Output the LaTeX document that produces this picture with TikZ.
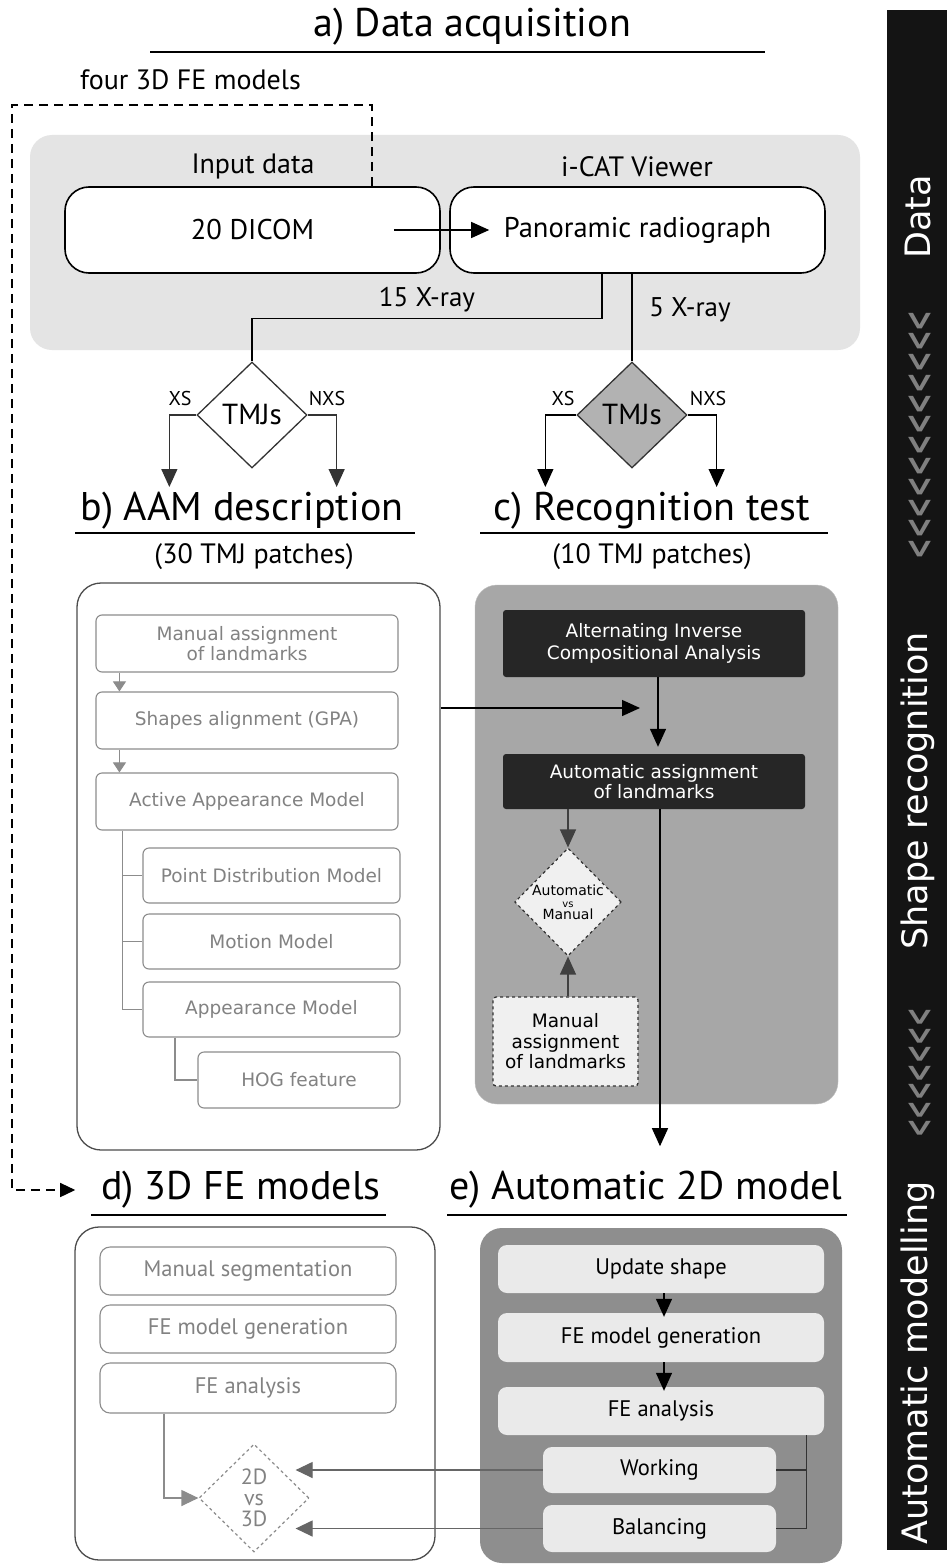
\documentclass[tikz,border=0pt]{standalone}
\usepackage{fontspec}
\setmainfont{PT Sans}
\newfontfamily\condf{PT Sans}
\newfontfamily\djv{DejaVu Sans}
\usetikzlibrary{shapes.geometric,arrows.meta,calc}
\definecolor{bandgray}{HTML}{E4E4E4}
\definecolor{cgray}{HTML}{A7A7A7}
\definecolor{egray}{HTML}{8E8E8E}
\definecolor{einner}{HTML}{EAEAEA}
\definecolor{darkbx}{HTML}{262626}
\definecolor{soft}{HTML}{828282}
\definecolor{softline}{HTML}{8C8C8C}
\begin{document}
\begin{tikzpicture}[x=1pt,y=-1pt,
  fs/.style={font=\condf\fontsize{#1}{#1}\selectfont},
  ttl/.style={font=\condf\fontsize{40}{40}\selectfont, inner sep=0},
  uline/.style={line width=1.6pt},
  bigbox/.style={draw, line width=1.6pt, rounded corners=24pt, minimum width=375pt, minimum height=86pt, fill=white, font=\condf\fontsize{28.5}{28.5}\selectfont},
  diam/.style={diamond, draw=black!80, line width=1.3pt, minimum width=110pt, minimum height=106pt, inner sep=0, font=\condf\fontsize{29}{29}\selectfont},
  arr/.style={-{Triangle[length=18pt,width=16pt]}, line width=1.3pt},
  sarr/.style={-{Triangle[length=10pt,width=13pt]}, draw=softline, line width=1pt},
  garr/.style={-{Triangle[length=17pt,width=16pt]}, draw=black!60, line width=1.2pt},
  inb/.style={draw=softline, line width=1.1pt, rounded corners=6pt, text=soft, font=\djv\fontsize{18.5}{20}\selectfont, align=center, inner sep=2pt},
  darkbox/.style={fill=darkbx, text=white, rounded corners=3pt, minimum width=302pt, font=\djv\fontsize{18.5}{22}\selectfont, align=center, inner sep=2pt},
  ind/.style={draw=softline, line width=1.1pt, rounded corners=10pt, text=soft, font=\condf\fontsize{22.5}{22.5}\selectfont, minimum width=296pt, inner sep=2pt},
  ine/.style={fill=einner, rounded corners=9pt, font=\condf\fontsize{22.5}{22.5}\selectfont, inner sep=2pt},
  side/.style={rotate=90, text=white, font=\djv\fontsize{35}{35}\selectfont, inner sep=0},
  chev/.style={rotate=90, xscale=0.62, text=black!50, inner sep=0, font=\djv\bfseries\fontsize{40}{40}\selectfont}
]
\useasboundingbox (0,0) rectangle (947,1565);
\fill[white] (0,0) rectangle (947,1565);

% ---------- a) data acquisition
\fill[bandgray, rounded corners=22pt] (30,135) rectangle (860,350);
\node[ttl] (ta) at (472,27) {a) Data acquisition};
\draw[uline] (150,52) -- (765,52);
\node[fs=28, anchor=west, inner sep=0] (four) at (80,80) {four 3D FE models};
\node[fs=28, inner sep=0] (inp) at (253,167) {Input data};
\node[fs=28, inner sep=0] (icat) at (637,167) {i-CAT Viewer};
\node[bigbox] (dicom) at (252.5,230) {20 DICOM};
\node[bigbox] (pano) at (637.5,230) {Panoramic radiograph};
\draw[arr] ([xshift=-47pt]dicom.east) -- ([xshift=40pt]pano.west);

\node[diam, fill=white] (dL) at (252,415) {TMJs};
\node[diam, fill=black!30] (dR) at (632,415) {TMJs};
\draw[line width=1.3pt] ([xshift=-35.5pt]pano.south) -- ++(0,45) -| (dL.north);
\node[fs=27] (l15) at (427,300) {15 X-ray};
\draw[line width=1.3pt] (dR.north |- pano.south) -- (dR.north);
\node[fs=27] (l5) at (690,310) {5 X-ray};

\draw[arr, draw=black!80] (dL.west) -- ++(-27,0) -- ++(0,72);
\draw[arr, draw=black!80] (dL.east) -- ++(29,0) -- ++(0,72);
\node[fs=20] (xs1) at (180,398) {XS};
\node[fs=20] (nxs1) at (327,398) {NXS};
\draw[arr] (dR.west) -- ++(-31,0) -- ++(0,72);
\draw[arr] (dR.east) -- ++(29,0) -- ++(0,72);
\node[fs=20] (xs2) at (563,398) {XS};
\node[fs=20] (nxs2) at (708,398) {NXS};

% dashed link to 3D FE models
\node[ttl] (td) at (241,1190) {d) 3D FE models};
\draw[line width=1.3pt, dash pattern=on 9pt off 6pt, -{Triangle[length=15pt,width=14pt]}]
  ([xshift=119.5pt]dicom.north) |- (12,105) |- ($(td.west)+(-26,0)$);

% ---------- b) and c) titles
\node[ttl] (tb) at (242,511) {b) AAM description};
\draw[uline] (75,533) -- (415,533);
\node[ttl] (tc) at (652,511) {c) Recognition test};
\draw[uline] (480,533) -- (828,533);
\node[fs=28] (pb) at (254,557) {(30 TMJ patches)};
\node[fs=28] (pc) at (652,557) {(10 TMJ patches)};

% ---------- b) box
\node[draw=black!70, line width=1.3pt, rounded corners=24pt, minimum width=363pt, minimum height=567pt, fill=white] (boxb) at (258.5,866.5) {};
\node[inb, minimum width=302pt, minimum height=57pt] (mal) at (247,643.5) {Manual assignment\\of landmarks};
\node[inb, minimum width=302pt, minimum height=57pt] (gpa) at (247,720.5) {Shapes alignment (GPA)};
\node[inb, minimum width=302pt, minimum height=57pt] (aam) at (247,801.5) {Active Appearance Model};
\node[inb, minimum width=257pt, minimum height=55pt] (pdm) at (271.5,875.5) {Point Distribution Model};
\node[inb, minimum width=257pt, minimum height=55pt] (mm) at (271.5,941.5) {Motion Model};
\node[inb, minimum width=257pt, minimum height=55pt] (am) at (271.5,1009.5) {Appearance Model};
\node[inb, minimum width=202pt, minimum height=56pt] (hog) at (299,1080) {HOG feature};
\draw[sarr] ([xshift=24pt]mal.south west) -- ([xshift=24pt]gpa.north west);
\draw[sarr] ([xshift=24pt]gpa.south west) -- ([xshift=24pt]aam.north west);
\coordinate (tr) at ([xshift=27pt]aam.south west);
\draw[softline, line width=1.1pt] (tr) |- (am.west);
\draw[softline, line width=1.1pt] (tr |- pdm.west) -- (pdm.west);
\draw[softline, line width=1.1pt] (tr |- mm.west) -- (mm.west);
\coordinate (hr) at ([xshift=-96.5pt]am.south);
\draw[softline, line width=1.1pt] (hr) |- (hog.west);

% ---------- c) box
\node[fill=cgray, draw=black!25, rounded corners=22pt, minimum width=363pt, minimum height=519pt] (boxc) at (656.5,844.5) {};
\node[darkbox, minimum height=67pt] (aica) at (654,643.5) {Alternating Inverse\\Compositional Analysis};
\node[darkbox, minimum height=55pt, font=\djv\fontsize{18.5}{19.5}\selectfont] (aal) at (654,781.5) {Automatic assignment\\of landmarks};
\node[diamond, draw=black!80, dashed, line width=1.2pt, fill=black!6, minimum width=106pt, minimum height=108pt, inner sep=0, font=\djv\fontsize{14}{12}\selectfont, align=center] (avm) at (568,902) {Automatic\\{\fontsize{10}{9}\selectfont vs}\\Manual};
\node[draw=black!80, dashed, line width=1.3pt, fill=black!6, rounded corners=3pt, minimum width=145pt, minimum height=89pt, font=\djv\fontsize{18.5}{20.5}\selectfont, align=center, inner sep=1pt] (mal2) at (565.5,1041.5) {Manual\\assignment\\of landmarks};
\coordinate (cjoin) at (640,708);
\draw[arr] (boxb.east |- cjoin) -- (cjoin);
\draw[arr] ([xshift=4pt]aica.south) -- ([xshift=4pt,yshift=7pt]aal.north);
\draw[arr, draw=black!75] ([xshift=-86pt]aal.south) -- (avm.north);
\draw[arr, draw=black!75] (avm.south |- mal2.north) -- (avm.south);
\draw[arr] ([xshift=6pt]aal.south) -- ++(0,337);

% ---------- d) and e)
\draw[uline] (91,1215) -- (386,1215);
\node[ttl] (te) at (646,1190) {e) Automatic 2D model};
\draw[uline] (447,1215) -- (847,1215);

\node[draw=black!70, line width=1.3pt, rounded corners=24pt, minimum width=360pt, minimum height=333pt, fill=white] (boxd) at (255,1393.5) {};
\node[ind, minimum height=48pt] (ms) at (248,1271) {Manual segmentation};
\node[ind, minimum height=48pt] (feg) at (248,1329) {FE model generation};
\node[ind, minimum height=50pt] (fea) at (248,1388) {FE analysis};
\node[diamond, draw=softline, dashed, line width=1.2pt, minimum width=110pt, minimum height=108pt, inner sep=0, text=soft, font=\condf\fontsize{22}{21}\selectfont, align=center] (vs) at (254,1498) {2D\\vs\\3D};
\draw[garr, draw=softline] ([xshift=-84pt]fea.south) |- (vs.west);

\node[fill=egray, rounded corners=22pt, minimum width=362pt, minimum height=335pt] (boxe) at (661,1395.5) {};
\node[ine, minimum width=326pt, minimum height=48pt] (us) at (661,1269) {Update shape};
\node[ine, minimum width=326pt, minimum height=49pt] (feg2) at (661,1337.5) {FE model generation};
\node[ine, minimum width=326pt, minimum height=48pt] (fea2) at (661,1411) {FE analysis};
\node[ine, minimum width=233pt, minimum height=46pt] (wk) at (659.5,1470) {Working};
\node[ine, minimum width=233pt, minimum height=47pt] (bal) at (659.5,1528.5) {Balancing};
\draw[arr] ([xshift=3pt]us.south) -- ([xshift=3pt,yshift=-4pt]feg2.north);
\draw[arr] ([xshift=3pt]feg2.south) -- ([xshift=3pt,yshift=-4pt]fea2.north);
\coordinate (br) at ([xshift=-18pt]fea2.south east);
\draw[line width=1.2pt, black!80] (br) |- (bal.east);
\draw[line width=1.2pt, black!80] (br |- wk.east) -- (wk.east);
\draw[garr] (wk.west) -- ($(wk.west -| vs.east)+(-14,0)$);
\draw[garr] (bal.west) -- ($(bal.west -| vs.east)+(-14,0)$);

% ---------- side bar
\fill[black!92] (887,10) rectangle (947,1550);
\node[side] (sdata) at (918,217) {Data};
\node[chev] (ch1) at (921,435) {<<<<<<<<<<<<};
\node[side] (sshape) at (918,791) {Shape recognition};
\node[chev, xscale=0.89] (ch2) at (921,1073) {<<<<<<<};
\node[side] (sauto) at (918,1363) {Automatic modelling};
\end{tikzpicture}
\end{document}
